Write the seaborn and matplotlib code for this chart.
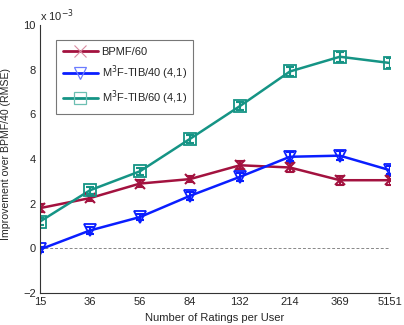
import seaborn as sns
import matplotlib.pyplot as plt
from matplotlib.lines import Line2D
import pandas as pd
import numpy as np

# x categories (ratings per user bins)
ratings = ['15', '36', '56', '84', '132', '214', '369', '5151']

# improvement values, in units of 1e-3
bpmf60 = [1.8, 2.25, 2.9, 3.1, 3.72, 3.62, 3.05, 3.05]
bpmf60_err = [0.18, 0.15, 0.15, 0.15, 0.18, 0.18, 0.2, 0.2]
tib40 = [-0.05, 0.8, 1.4, 2.35, 3.2, 4.1, 4.15, 3.5]
tib40_err = [0.12, 0.15, 0.15, 0.18, 0.18, 0.2, 0.2, 0.18]
tib60 = [1.2, 2.6, 3.45, 4.9, 6.37, 7.92, 8.58, 8.3]
tib60_err = [0.15, 0.15, 0.15, 0.18, 0.18, 0.2, 0.22, 0.22]

series_names = ['BPMF/60', 'M$^3$F-TIB/40 (4,1)', 'M$^3$F-TIB/60 (4,1)']
colors = ['#A3123F', '#0A1EFF', '#159485']
markers = ['x', 'v', 's']

sns.set_style("white")
plt.rcParams['font.family'] = ['Liberation Sans', 'DejaVu Sans']

fig = plt.figure(figsize=(4.04, 3.25), dpi=100)
ax = fig.add_axes([0.099, 0.0985, 0.866, 0.8245])

pos = np.arange(len(ratings))
ax.plot(pos, np.zeros(len(ratings)), ls='--', color='#888888', lw=0.7, dashes=(3, 2))

rows = []
for name, vals in zip(series_names, [bpmf60, tib40, tib60]):
    for p, v in zip(pos, vals):
        rows.append({'pos': p, 'val': v, 'series': name})
df = pd.DataFrame(rows)

sns.lineplot(data=df, x='pos', y='val', hue='series', palette=colors,
             lw=1.8, legend=False, ax=ax)

for name, vals, errs, c, m in zip(series_names, [bpmf60, tib40, tib60],
                                  [bpmf60_err, tib40_err, tib60_err], colors, markers):
    ax.errorbar(pos, vals, yerr=errs, fmt='none', ecolor=c, elinewidth=1.5,
                capsize=3, capthick=1.5)
    if m == 'x':
        ax.plot(pos, vals, ls='none', marker=m, ms=7, mew=1.5, color=c)
    else:
        ax.plot(pos, vals, ls='none', marker=m, ms=8, mew=1.3,
                mfc='none', mec=c)

# legend
handles = []
for name, c, m in zip(series_names, colors, markers):
    if m == 'x':
        h = Line2D([], [], color=c, lw=2, marker=m, ms=8, mew=0.8, mec='#d98aa0')
    else:
        lc = '#6b7cff' if m == 'v' else '#6cbfb2'
        h = Line2D([], [], color=c, lw=2, marker=m, ms=9, mew=0.9, mfc='none', mec=lc)
    handles.append(h)
leg = ax.legend(handles, series_names, loc='upper left', bbox_to_anchor=(0.03, 0.965),
                fontsize=8, frameon=True, fancybox=False, edgecolor='#555555',
                handlelength=3.2, handletextpad=0.3, labelspacing=0.6, borderpad=0.6)
leg.get_frame().set_linewidth(0.8)

ax.set_xlim(0, len(ratings) - 1)
ax.set_ylim(-2, 10)
ax.set_xticks(pos)
ax.set_xticklabels(ratings)
ax.set_yticks([-2, 0, 2, 4, 6, 8, 10])
ax.tick_params(direction='in', length=3, labelsize=8, color='#333333', pad=3)
for s in ['top', 'right']:
    ax.spines[s].set_visible(False)
for s in ['left', 'bottom']:
    ax.spines[s].set_color('#333333')
    ax.spines[s].set_linewidth(0.8)
ax.set_xlabel('Number of Ratings per User', fontsize=8, labelpad=4)
ax.set_ylabel('Improvement over BPMF/40 (RMSE)', fontsize=7.6)
ax.yaxis.set_label_coords(-0.082, 0.52)
ax.text(0.0, 1.015, 'x 10$^{-3}$', transform=ax.transAxes, fontsize=8)

fig.savefig('out.png', dpi=100)
